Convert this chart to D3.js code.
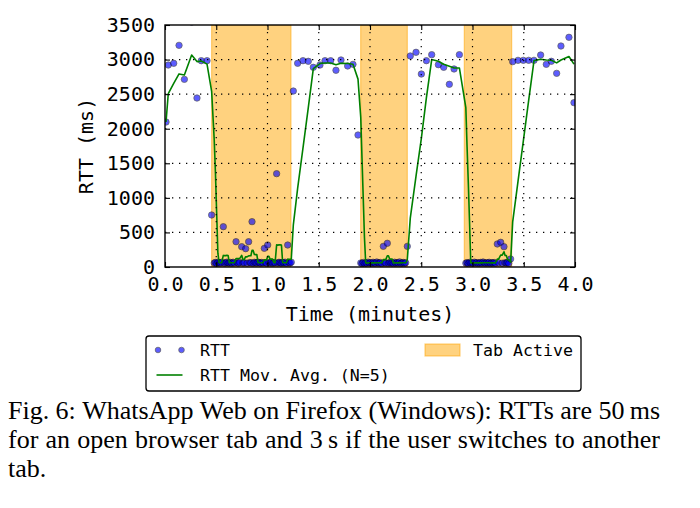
<!DOCTYPE html>
<html><head><meta charset="utf-8">
<script src="https://cdn.jsdelivr.net/npm/d3@7"></script>
<style>html,body{margin:0;padding:0;background:#fff;} svg{display:block;}</style>
</head><body><svg id="c" width="700" height="508"></svg>
<script>
// ---------- data ----------
const xTicks = [0, 0.5, 1, 1.5, 2, 2.5, 3, 3.5, 4];
const yTicks = [0, 500, 1000, 1500, 2000, 2500, 3000, 3500];
const tabActiveStart = [0.455, 1.909, 2.920];
const tabActiveEnd   = [1.229, 2.364, 3.382];
const movAvgN = 5;

// RTT samples (time in minutes, RTT in ms)
const rttTimes = [
  0.010, 0.032, 0.085, 0.137, 0.189, 0.260, 0.312, 0.354, 0.410, 0.455,
  0.480, 0.492, 0.504, 0.516, 0.528, 0.540, 0.552, 0.569, 0.580, 0.592,
  0.604, 0.616, 0.628, 0.640, 0.652, 0.664, 0.676, 0.693, 0.704, 0.716,
  0.728, 0.748, 0.760, 0.772, 0.787, 0.800, 0.816, 0.828, 0.838, 0.849,
  0.860, 0.872, 0.884, 0.896, 0.908, 0.920, 0.932, 0.944, 0.956, 0.969,
  0.980, 0.990, 1.002, 1.014, 1.026, 1.038, 1.050, 1.062, 1.074, 1.089,
  1.100, 1.112, 1.124, 1.136, 1.148, 1.160, 1.172, 1.184, 1.197, 1.208,
  1.220, 1.232,
  1.252, 1.294, 1.346, 1.398, 1.447, 1.512, 1.561, 1.616, 1.668, 1.717,
  1.782, 1.834, 1.883,
  1.910, 1.922, 1.934, 1.946, 1.958, 1.970, 1.982, 1.994, 2.006, 2.018,
  2.030, 2.042, 2.054, 2.066, 2.078, 2.090, 2.102, 2.114, 2.130, 2.142,
  2.154, 2.169, 2.180, 2.192, 2.204, 2.216, 2.228, 2.240, 2.252, 2.264,
  2.276, 2.288, 2.300, 2.312, 2.324, 2.336, 2.348, 2.364,
  2.393, 2.449, 2.501, 2.550, 2.602, 2.667, 2.719, 2.774, 2.820, 2.872,
  2.935, 2.947, 2.959, 2.971, 2.983, 2.995, 3.007, 3.019, 3.031, 3.043,
  3.055, 3.067, 3.079, 3.091, 3.103, 3.115, 3.127, 3.139, 3.151, 3.163,
  3.175, 3.187, 3.199, 3.211, 3.223, 3.242, 3.255, 3.275, 3.290, 3.307,
  3.318, 3.330, 3.342, 3.354, 3.372,
  3.392, 3.444, 3.496, 3.548, 3.600, 3.665, 3.720, 3.769, 3.821, 3.863,
  3.941, 3.990
];
const rttValues = [
  2097, 2921, 2946, 3206, 2714, 3543, 2444, 2984, 2984, 752,
  58, 65, 52, 70, 61, 56, 68, 583, 54, 62,
  71, 57, 60, 66, 53, 69, 59, 366, 63, 55,
  67, 294, 58, 62, 265, 56, 366, 65, 59, 656,
  54, 68, 61, 57, 70, 63, 55, 66, 59, 270,
  62, 56, 318, 65, 58, 71, 54, 63, 60, 1350,
  57, 68, 62, 55, 66, 59, 70, 53, 318, 64,
  57, 69,
  2545, 2946, 2984, 2975, 2888, 2921, 2984, 2984, 2845, 2994,
  2907, 2931, 1909,
  58, 52, 66, 49, 61, 55, 70, 57, 63, 51,
  68, 59, 54, 72, 60, 56, 65, 50, 299, 62,
  57, 343, 53, 66, 58, 61, 52, 69, 55, 63,
  57, 74, 51, 60, 66, 54, 62, 299,
  3052, 3105, 2791, 2984, 3071, 2926, 2888, 2642, 2864, 3071,
  56, 63, 50, 67, 58, 61, 53, 70, 57, 64,
  52, 59, 66, 55, 72, 60, 54, 63, 57, 68,
  51, 62, 58, 65, 53, 333, 60, 357, 55, 294,
  62, 57, 66, 52, 116,
  2970, 2989, 2989, 2989, 2989, 3066, 2931, 2975, 2801, 3196,
  3322, 2377
];

const captionLines = [
  "Fig. 6: WhatsApp Web on Firefox (Windows): RTTs are 50\u2009ms",
  "for an open browser tab and 3\u2009s if the user switches to another",
  "tab."
];

// ---------- chart ----------
const svg = d3.select("#c");
const L = 165, R = 575, T = 25, B = 267;
const x = d3.scaleLinear().domain([0, 4]).range([L, R]);
const y = d3.scaleLinear().domain([0, 3500]).range([B, T]);
const mono = "'DejaVu Sans Mono', monospace";

svg.append("defs").append("clipPath").attr("id", "clip")
  .append("rect").attr("x", L).attr("y", T).attr("width", R - L).attr("height", B - T);

const samples = rttTimes.map((t, i) => ({t, v: rttValues[i]}));
// trailing moving average of the last N samples (as labelled in the legend)
const avg = samples.map((d, i) => ({t: d.t, v: d3.mean(samples.slice(Math.max(0, i - movAvgN + 1), i + 1), s => s.v)}));

const plot = svg.append("g").attr("clip-path", "url(#clip)");

// tab active spans
plot.selectAll("rect.span").data(tabActiveStart).join("rect").attr("class", "span")
  .attr("x", (d) => x(d)).attr("y", T)
  .attr("width", (d, i) => x(tabActiveEnd[i]) - x(d)).attr("height", B - T)
  .attr("fill", "orange").attr("fill-opacity", 0.5)
  .attr("stroke", "orange").attr("stroke-opacity", 0.5).attr("stroke-width", 1.2);

// points
plot.selectAll("circle.pt").data(samples).join("circle").attr("class", "pt")
  .attr("cx", d => x(d.t)).attr("cy", d => y(d.v)).attr("r", 3.2)
  .attr("fill", "blue").attr("stroke", "black").attr("stroke-width", 0.7)
  .attr("opacity", 0.63);

// moving average
plot.append("path").datum(avg)
  .attr("d", d3.line().x(d => x(d.t)).y(d => y(d.v)))
  .attr("fill", "none").attr("stroke", "#008000").attr("stroke-width", 1.6)
  .attr("stroke-linejoin", "round");

// grid
const grid = svg.append("g").attr("stroke", "black").attr("stroke-width", 1.2)
  .attr("stroke-dasharray", "1.3,5.7");
grid.selectAll("line.gx").data(xTicks.slice(1, -1)).join("line").attr("class", "gx")
  .attr("x1", d => x(d)).attr("x2", d => x(d)).attr("y1", T).attr("y2", B);
grid.selectAll("line.gy").data(yTicks.slice(1, -1)).join("line").attr("class", "gy")
  .attr("y1", d => y(d)).attr("y2", d => y(d)).attr("x1", L).attr("x2", R);

// axes
function styleAxis(g) {
  g.select(".domain").remove();
  g.selectAll(".tick line").attr("stroke", "black").attr("stroke-width", 1.1);
  g.selectAll(".tick text").attr("font-family", mono).attr("font-size", 20).attr("fill", "black");
}
svg.append("g").attr("transform", `translate(0,${B})`)
  .call(d3.axisBottom(x).tickValues(xTicks).tickFormat(d3.format(".1f")).tickSize(-5).tickPadding(10))
  .call(styleAxis);
svg.append("g").attr("transform", `translate(${L},0)`)
  .call(d3.axisLeft(y).tickValues(yTicks).tickFormat(d3.format("d")).tickSize(-5).tickPadding(10))
  .call(styleAxis);
svg.append("g").attr("transform", `translate(0,${T})`)
  .call(d3.axisTop(x).tickValues(xTicks).tickFormat("").tickSize(-5))
  .call(styleAxis);
svg.append("g").attr("transform", `translate(${R},0)`)
  .call(d3.axisRight(y).tickValues(yTicks).tickFormat("").tickSize(-5))
  .call(styleAxis);

svg.append("rect").attr("x", L).attr("y", T).attr("width", R - L).attr("height", B - T)
  .attr("fill", "none").attr("stroke", "black").attr("stroke-width", 1.4);

// axis labels
svg.append("text").attr("x", (L + R) / 2).attr("y", 321).attr("text-anchor", "middle")
  .attr("font-family", mono).attr("font-size", 20).text("Time (minutes)");
svg.append("text").attr("transform", `translate(93,${(T + B) / 2}) rotate(-90)`)
  .attr("text-anchor", "middle").attr("font-family", mono).attr("font-size", 20).text("RTT (ms)");

// legend
const lg = svg.append("g");
lg.append("rect").attr("x", 146).attr("y", 336).attr("width", 435).attr("height", 55).attr("rx", 3)
  .attr("fill", "white").attr("stroke", "black").attr("stroke-width", 1.3);
lg.selectAll("circle").data([158, 181.5]).join("circle")
  .attr("cx", d => d).attr("cy", 350).attr("r", 2.8)
  .attr("fill", "blue").attr("stroke", "black").attr("stroke-width", 0.7).attr("opacity", 0.63);
lg.append("line").attr("x1", 156.5).attr("x2", 182.5).attr("y1", 375).attr("y2", 375)
  .attr("stroke", "#008000").attr("stroke-width", 1.6);
lg.append("rect").attr("x", 425).attr("y", 344).attr("width", 35).attr("height", 12)
  .attr("fill", "orange").attr("fill-opacity", 0.5).attr("stroke", "orange").attr("stroke-opacity", 0.5).attr("stroke-width", 1.2);
const legText = [["RTT", 200, 356], ["Tab Active", 473, 356], ["RTT Mov. Avg. (N=5)", 200, 381]];
lg.selectAll("text").data(legText).join("text")
  .attr("x", d => d[1]).attr("y", d => d[2]).attr("font-family", mono).attr("font-size", 16.6)
  .text(d => d[0]);

// caption (justified lines)
const capX0 = 8, capX1 = 660, capBase = [419, 448, 477];
const cap = svg.append("g").attr("font-family", "'Liberation Serif', 'Times New Roman', serif").attr("font-size", 26);
captionLines.forEach((line, li) => {
  const words = line.split(" ");
  const nodes = words.map(w => cap.append("text").attr("y", capBase[li]).text(w));
  const widths = nodes.map(n => n.node().getComputedTextLength());
  const total = d3.sum(widths);
  const last = li === captionLines.length - 1;
  const gap = (last || words.length < 2) ? 6.5 : (capX1 - capX0 - total) / (words.length - 1);
  let cx = capX0;
  nodes.forEach((n, i) => { n.attr("x", cx); cx += widths[i] + gap; });
});
</script></body></html>
